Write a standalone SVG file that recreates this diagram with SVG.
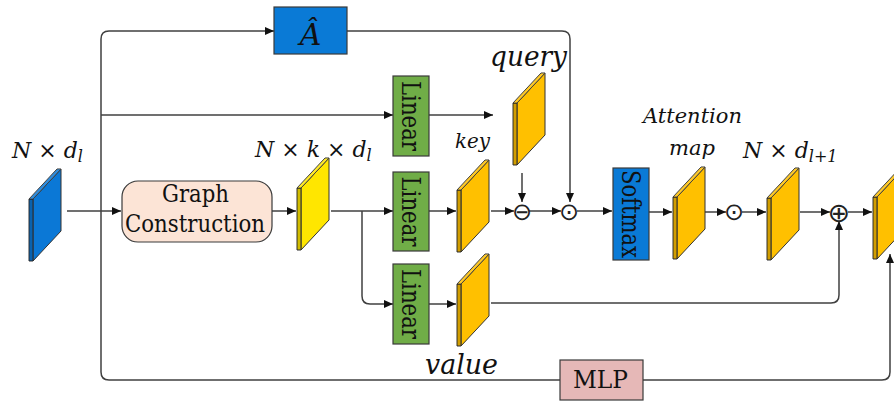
<svg xmlns="http://www.w3.org/2000/svg" xmlns:xlink="http://www.w3.org/1999/xlink" width="894" height="401" viewBox="0 0 894 401">
<style>
.ar{fill:none;stroke:#404040;stroke-width:1.5;marker-end:url(#ah)}
.box{stroke:#3a3a3a;stroke-width:1.2}
.sl{stroke:#333;stroke-width:1;stroke-linejoin:round}
.t{font-family:'DejaVu Serif',serif;fill:#111}
.m{font-family:'DejaVu Serif',serif;fill:#111;font-style:italic}
.op{font-family:'DejaVu Sans',sans-serif;fill:#222}
</style>
<defs>
<marker id="ah" markerUnits="userSpaceOnUse" markerWidth="10" markerHeight="10" viewBox="0 0 10 10" refX="9" refY="5" orient="auto">
<path d="M0,1 L9,5 L0,9 Z" fill="#111"/>
</marker>
<g id="slab">
<polygon class="sl" points="4,0 32,-30 32,32 4,62"/>
<polygon class="sl" points="0,0 4,0 4,62 0,62"/>
<polygon class="sl" points="0,0 28,-30 32,-30 4,0"/>
<polygon points="0,0 4,0 4,62 0,62" fill="#000" fill-opacity="0.18"/>
<polygon points="0,0 28,-30 32,-30 4,0" fill="#fff" fill-opacity="0.15"/>
</g>
</defs>

<g id="connectors">
<path class="ar" d="M560,380 H109 Q101,380 101,372 V39 Q101,31 109,31 H274"/>
<path class="ar" d="M643,380 H882 Q890,380 890,372 V254"/>
<path class="ar" d="M101,115 H393"/>
<path class="ar" d="M429,115 H493"/>
<path class="ar" d="M67,211 H121"/>
<path class="ar" d="M272,211 H296"/>
<path class="ar" d="M331,211 H393"/>
<path class="ar" d="M362,211 V296 Q362,304 370,304 H393"/>
<path class="ar" d="M429,211 H456"/>
<path class="ar" d="M429,304 H456"/>
<path class="ar" d="M491,211 H514"/>
<path class="ar" d="M522,173 V202"/>
<path class="ar" d="M529,211 H561"/>
<path class="ar" d="M347,31 H562 Q570,31 570,39 V202"/>
<path class="ar" d="M577,211 H612"/>
<path class="ar" d="M649,212 H672"/>
<path class="ar" d="M705,212 H726"/>
<path class="ar" d="M742,212 H766"/>
<path class="ar" d="M800,212 H830"/>
<path class="ar" d="M848,212 H872"/>
<path class="ar" d="M491,303 H831 Q839,303 839,295 V221"/>
</g>

<g id="ops">
<text class="op" x="522" y="212" font-size="24" text-anchor="middle" dominant-baseline="central">⊖</text>
<text class="op" x="569" y="212" font-size="24" text-anchor="middle" dominant-baseline="central">⊙</text>
<text class="op" x="734" y="212" font-size="24" text-anchor="middle" dominant-baseline="central">⊙</text>
<text class="op" x="839" y="212" font-size="27" text-anchor="middle" dominant-baseline="central">⊕</text>
</g>

<g id="input">
<use xlink:href="#slab" href="#slab" x="29" y="199" fill="#0B78D6"/>
<text class="m" x="12" y="158" font-size="22">N <tspan font-style="normal">×</tspan> d<tspan font-size="16" dy="4">l</tspan></text>
</g>

<g id="ahat">
<rect class="box" x="274" y="7" width="73" height="47" fill="#0A7AD6"/>
<text class="m" x="310.5" y="45" font-size="30" text-anchor="middle">Â</text>
</g>

<g id="graph">
<rect class="box" x="122" y="181" width="150" height="61" rx="16" fill="#FCE4D6"/>
<text class="t" x="162" y="202" font-size="24" textLength="67" lengthAdjust="spacingAndGlyphs">Graph</text>
<text class="t" x="125" y="232" font-size="24" textLength="140" lengthAdjust="spacingAndGlyphs">Construction</text>
</g>

<g id="knn">
<use xlink:href="#slab" href="#slab" x="297" y="188" fill="#FFE600"/>
<text class="m" x="255" y="157" font-size="22">N <tspan font-style="normal">×</tspan> k <tspan font-style="normal">×</tspan> d<tspan font-size="16" dy="4">l</tspan></text>
</g>

<g id="linear1">
<rect class="box" x="393" y="76" width="36" height="80" fill="#70AD47"/>
<text class="t" transform="rotate(90 411 116)" x="376" y="116" font-size="26" textLength="70" lengthAdjust="spacingAndGlyphs" dominant-baseline="central">Linear</text>
</g>
<g id="linear2">
<rect class="box" x="393" y="172" width="36" height="79" fill="#70AD47"/>
<text class="t" transform="rotate(90 411 211.5)" x="376" y="211.5" font-size="26" textLength="70" lengthAdjust="spacingAndGlyphs" dominant-baseline="central">Linear</text>
</g>
<g id="linear3">
<rect class="box" x="393" y="264" width="36" height="80" fill="#70AD47"/>
<text class="t" transform="rotate(90 411 304)" x="376" y="304" font-size="26" textLength="70" lengthAdjust="spacingAndGlyphs" dominant-baseline="central">Linear</text>
</g>

<g id="query">
<use xlink:href="#slab" href="#slab" x="513" y="103" fill="#FFC000"/>
<text class="m" x="490" y="66" font-size="27" textLength="77" lengthAdjust="spacingAndGlyphs">query</text>
</g>
<g id="key">
<use xlink:href="#slab" href="#slab" x="457" y="190" fill="#FFC000"/>
<text class="m" x="455" y="148" font-size="21" textLength="35" lengthAdjust="spacingAndGlyphs">key</text>
</g>
<g id="value">
<use xlink:href="#slab" href="#slab" x="457" y="284" fill="#FFC000"/>
<text class="m" x="425" y="374" font-size="27" textLength="73" lengthAdjust="spacingAndGlyphs">value</text>
</g>

<g id="softmax">
<rect class="box" x="613" y="168" width="36" height="92" fill="#0A7AD6"/>
<text class="t" transform="rotate(90 631 214)" x="587" y="214" font-size="26" textLength="88" lengthAdjust="spacingAndGlyphs" dominant-baseline="central">Softmax</text>
</g>

<g id="attmap">
<use xlink:href="#slab" href="#slab" x="673" y="197" fill="#FFC000"/>
<text class="m" x="643" y="123" font-size="21" textLength="99" lengthAdjust="spacingAndGlyphs">Attention</text>
<text class="m" x="669" y="155" font-size="21" textLength="46" lengthAdjust="spacingAndGlyphs">map</text>
</g>

<g id="out1">
<use xlink:href="#slab" href="#slab" x="767" y="198" fill="#FFC000"/>
<text class="m" x="743" y="158" font-size="22">N <tspan font-style="normal">×</tspan> d<tspan font-size="16" dy="4">l+1</tspan></text>
</g>

<g id="out2">
<use xlink:href="#slab" href="#slab" x="873" y="197" fill="#FFC000"/>
</g>

<g id="mlp">
<rect class="box" x="560" y="360" width="83" height="40" fill="#E6B8B7"/>
<text class="t" x="573" y="388" font-size="25" textLength="55" lengthAdjust="spacingAndGlyphs">MLP</text>
</g>
</svg>
